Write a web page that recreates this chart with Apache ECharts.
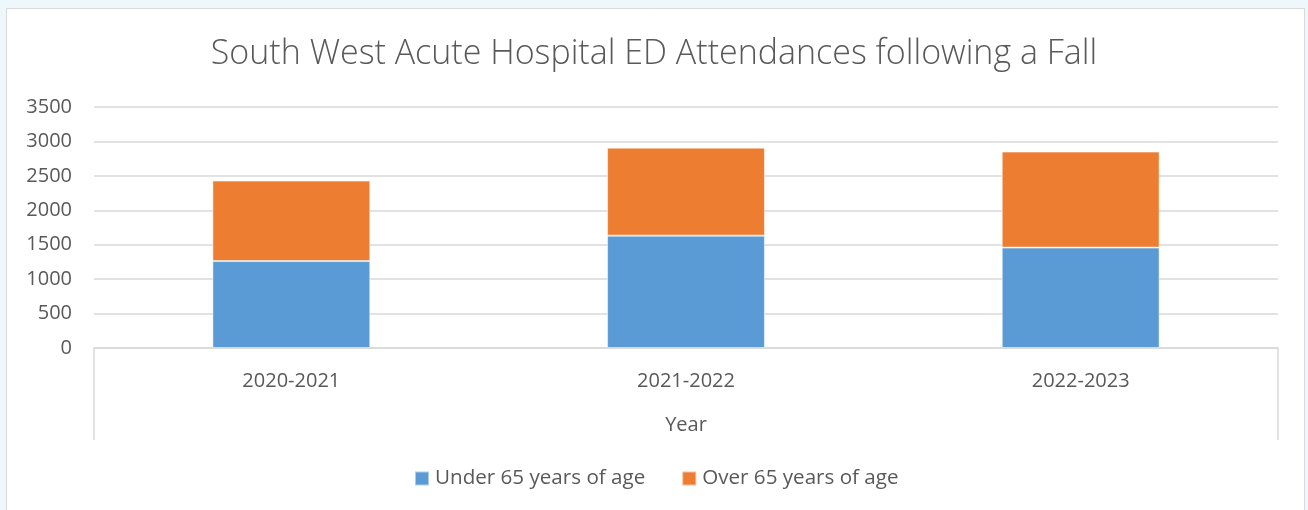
<!DOCTYPE html>
<html>
<head>
<meta charset="utf-8">
<script src="https://cdn.jsdelivr.net/npm/echarts@6/dist/echarts.min.js"></script>
<style>
  html, body { margin: 0; padding: 0; background: #eef7fb; }
  #chart { width: 1308px; height: 510px; }
</style>
</head>
<body>
<div id="chart"></div>
<script>
// Fall-related ED attendances, South West Acute Hospital
const years = ['2020-2021', '2021-2022', '2022-2023'];
const under65 = [1263, 1632, 1458];
const over65 = [1168, 1278, 1394];
const seriesNames = ['Under 65 years of age', 'Over 65 years of age'];
const yTicks = { min: 0, max: 3500, interval: 500 };

const FONT = '"Open Sans", "Noto Sans", sans-serif';
const TEXT = '#595959';
const GRID = '#d9d9d9';

const chart = echarts.init(document.getElementById('chart'), null, { renderer: 'canvas' });

const option = {
  backgroundColor: 'transparent',
  animation: false,
  textStyle: { fontFamily: FONT, color: TEXT },
  title: {
    text: 'South West Acute Hospital ED Attendances following a Fall',
    left: 'center',
    top: 32,
    textStyle: { fontFamily: FONT, fontWeight: 300, fontSize: 34, color: TEXT }
  },
  legend: {
    bottom: 16,
    left: 409,
    itemWidth: 14,
    itemHeight: 14,
    itemGap: 36,
    icon: 'rect',
    textStyle: { fontFamily: FONT, fontSize: 20.6, color: TEXT, padding: [0, 0, 0, 1] },
    data: seriesNames
  },
  grid: { left: 94, right: 30, top: 107, bottom: 162, containLabel: false },
  xAxis: {
    type: 'category',
    data: years,
    name: 'Year',
    nameLocation: 'middle',
    nameGap: 67,
    nameTextStyle: { fontFamily: FONT, fontSize: 20, color: TEXT },
    axisLine: { lineStyle: { color: GRID, width: 1.5 } },
    axisTick: { show: false },
    axisLabel: { fontFamily: FONT, fontSize: 20, color: TEXT, margin: 23 }
  },
  yAxis: {
    type: 'value',
    min: yTicks.min,
    max: yTicks.max,
    interval: yTicks.interval,
    axisLine: { show: false },
    axisTick: { show: false },
    axisLabel: { fontFamily: FONT, fontSize: 20, color: TEXT, margin: 22, formatter: v => String(v) },
    splitLine: { lineStyle: { color: GRID, width: 1.5 } }
  },
  series: [
    {
      name: seriesNames[0],
      type: 'bar',
      stack: 'total',
      data: under65,
      barWidth: '40%',
      itemStyle: { color: '#5b9bd5', borderColor: 'rgba(255,255,255,0.5)', borderWidth: 1 }
    },
    {
      name: seriesNames[1],
      type: 'bar',
      stack: 'total',
      data: over65,
      barWidth: '40%',
      itemStyle: { color: '#ed7d31', borderColor: 'rgba(255,255,255,0.5)', borderWidth: 1 }
    }
  ]
};

chart.setOption(option);

// White chart panel with a thin border, plus the open box under the category axis
const rect = chart.getModel().getComponent('grid').coordinateSystem.getRect();
const boxBottom = rect.y + rect.height + 92;
chart.setOption({
  graphic: [
    {
      type: 'rect', z: -10, silent: true,
      shape: { x: 6.5, y: 8.5, width: 1298, height: 520 },
      style: { fill: '#ffffff', stroke: '#d9d9d9', lineWidth: 1 }
    },
    {
      type: 'line', silent: true,
      shape: { x1: rect.x, y1: rect.y + rect.height, x2: rect.x, y2: boxBottom },
      style: { stroke: GRID, lineWidth: 1.5 }
    },
    {
      type: 'line', silent: true,
      shape: { x1: rect.x + rect.width, y1: rect.y + rect.height, x2: rect.x + rect.width, y2: boxBottom },
      style: { stroke: GRID, lineWidth: 1.5 }
    }
  ]
});
</script>
</body>
</html>
